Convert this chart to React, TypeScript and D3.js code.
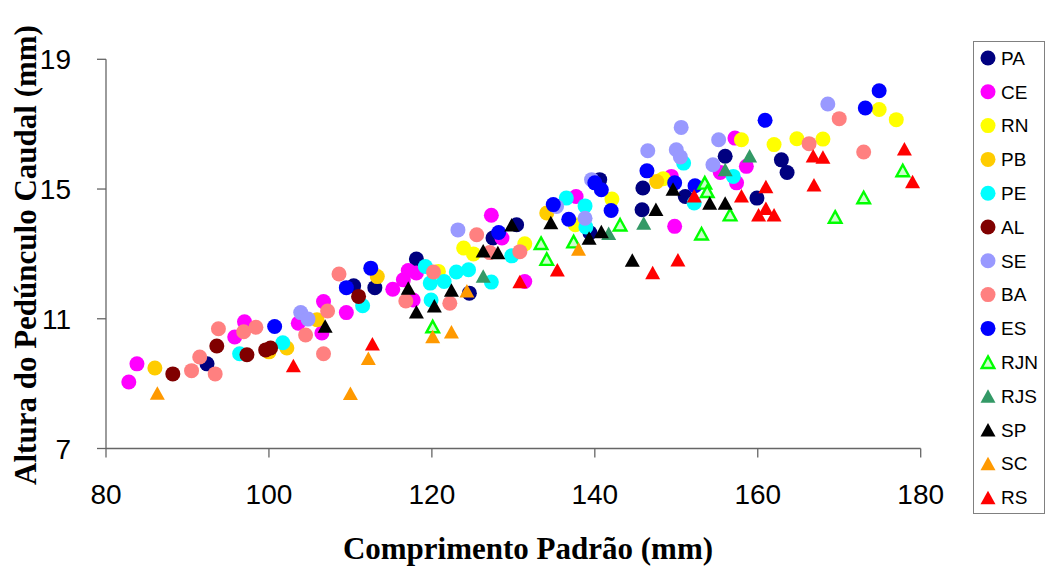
import React from "react";
import * as d3 from "d3";

type Pt = [number, number];

const PA: Pt[] = [[92.4,9.61],[110.4,12.02],[113.0,11.96],[118.1,12.84],[124.6,11.79],[127.5,13.49],[130.4,13.9],[139.4,13.65],[140.6,15.29],[145.9,15.03],[145.8,14.36],[151.1,14.77],[156.0,16.01],[159.9,14.72],[162.9,15.9],[163.6,15.51]];
const CE: Pt[] = [[82.8,9.05],[83.8,9.61],[95.8,10.44],[97.0,10.91],[103.6,10.86],[106.7,11.53],[106.5,10.56],[109.5,11.19],[115.2,11.91],[116.5,12.2],[117.1,12.49],[118.1,12.41],[117.7,11.58],[127.3,14.19],[128.6,13.49],[131.4,12.15],[137.7,14.77],[149.4,15.39],[149.8,13.85],[155.4,15.51],[157.2,16.57],[158.6,15.7],[157.4,15.19]];
const RN: Pt[] = [[120.8,12.46],[123.9,13.18],[125.1,13.0],[131.4,13.31],[137.6,13.9],[142.1,14.69],[148.4,15.32],[158.0,16.52],[162.0,16.37],[164.8,16.55],[168.0,16.54],[174.9,17.45],[177.0,17.14]];
const PB: Pt[] = [[86.0,9.48],[100.0,9.98],[102.2,10.1],[105.9,10.97],[113.3,12.3],[134.1,14.26],[147.6,15.23]];
const PE: Pt[] = [[96.4,9.92],[101.7,10.26],[111.5,11.4],[119.2,12.61],[119.8,12.1],[121.5,12.15],[119.9,11.58],[123.0,12.44],[124.5,12.51],[127.3,12.13],[129.8,12.94],[136.5,14.72],[138.8,14.48],[138.9,13.83],[150.9,15.8],[152.2,14.57],[157.0,15.39]];
const AL: Pt[] = [[88.2,9.3],[93.6,10.16],[97.3,9.89],[99.6,10.04],[100.2,10.1],[111.0,11.69]];
const SE: Pt[] = [[103.9,11.19],[104.8,10.99],[123.2,13.74],[135.3,14.46],[138.8,14.1],[139.6,15.29],[146.5,16.18],[150.0,16.21],[150.5,15.99],[150.6,16.9],[154.5,15.75],[155.2,16.52],[168.6,17.62]];
const BA: Pt[] = [[90.5,9.4],[91.5,9.82],[93.4,9.3],[93.8,10.69],[96.9,10.6],[98.4,10.74],[104.5,10.5],[106.7,9.92],[107.2,11.24],[108.6,12.38],[116.8,11.55],[120.2,12.44],[122.2,11.48],[125.5,13.59],[127.1,13.04],[130.8,13.07],[166.3,16.4],[170.0,17.17],[173.0,16.14]];
const ES: Pt[] = [[100.7,10.76],[109.5,11.96],[112.5,12.56],[128.2,13.66],[134.9,14.52],[136.8,14.07],[140.0,15.19],[140.8,14.98],[142.0,14.34],[146.4,15.56],[149.8,15.19],[152.3,15.1],[160.9,17.12],[173.2,17.5],[174.9,18.03]];
const RJN: Pt[] = [[120.1,10.76],[133.4,13.33],[134.1,12.84],[137.4,13.38],[143.1,13.9],[153.5,15.19],[153.8,14.93],[153.1,13.62],[156.6,14.21],[169.5,14.14],[173.0,14.74],[177.8,15.57]];
const RJS: Pt[] = [[126.3,12.32],[141.7,13.64],[146.0,13.95],[156.0,15.6],[159.0,16.03]];
const SP: Pt[] = [[106.9,10.78],[117.1,11.95],[118.1,11.22],[120.3,11.4],[122.4,11.89],[126.3,13.1],[128.1,13.04],[129.8,13.9],[134.6,13.97],[139.3,13.49],[140.8,13.69],[144.6,12.81],[147.5,14.38],[149.6,15.0],[154.1,14.57],[156.0,14.57]];
const SC: Pt[] = [[86.3,8.71],[110.0,8.7],[112.2,9.78],[120.1,10.45],[122.4,10.6],[124.3,11.86],[138.0,13.15]];
const RS: Pt[] = [[103.0,9.56],[112.7,10.23],[130.8,12.15],[135.4,12.51],[147.1,12.43],[150.2,12.82],[152.2,14.79],[158.0,14.79],[161.0,15.08],[160.1,14.21],[161.0,14.41],[162.0,14.21],[166.8,16.03],[168.0,15.99],[166.9,15.13],[178.0,16.24],[179.0,15.23]];

const X_TICKS = [80, 100, 120, 140, 160, 180];
const Y_TICKS = [7, 11, 15, 19];

type Series = { name: string; data: Pt[]; shape: "circle" | "tri"; fill: string; stroke?: string };
const SERIES: Series[] = [
  { name: "PA", data: PA, shape: "circle", fill: "#000080" },
  { name: "CE", data: CE, shape: "circle", fill: "#FF00FF" },
  { name: "RN", data: RN, shape: "circle", fill: "#FFFF00" },
  { name: "PB", data: PB, shape: "circle", fill: "#FFCC00" },
  { name: "PE", data: PE, shape: "circle", fill: "#00FFFF" },
  { name: "AL", data: AL, shape: "circle", fill: "#800000" },
  { name: "SE", data: SE, shape: "circle", fill: "#9999FF" },
  { name: "BA", data: BA, shape: "circle", fill: "#FF8080" },
  { name: "ES", data: ES, shape: "circle", fill: "#0000FF" },
  { name: "RJN", data: RJN, shape: "tri", fill: "#CCFFCC", stroke: "#00FF00" },
  { name: "RJS", data: RJS, shape: "tri", fill: "#339966" },
  { name: "SP", data: SP, shape: "tri", fill: "#000000" },
  { name: "SC", data: SC, shape: "tri", fill: "#FF9900" },
  { name: "RS", data: RS, shape: "tri", fill: "#FF0000" },
];

const x = d3.scaleLinear().domain([80, 180]).range([106, 920.7]);
const y = d3.scaleLinear().domain([7, 19]).range([448.5, 59.3]);

function Marker({ s, cx, cy }: { s: Series; cx: number; cy: number }) {
  if (s.shape === "circle") {
    return <circle cx={cx} cy={cy} r={7.5} fill={s.fill} />;
  }
  const w = s.stroke ? 6.3 : 7.5;
  const h = s.stroke ? 11.5 : 13.5;
  const pts = `${cx},${cy - h / 2} ${cx + w},${cy + h / 2} ${cx - w},${cy + h / 2}`;
  return s.stroke ? (
    <polygon points={pts} fill={s.fill} stroke={s.stroke} strokeWidth={2.4} strokeLinejoin="miter" />
  ) : (
    <polygon points={pts} fill={s.fill} />
  );
}

export default function App() {
  const axisColor = "#666";
  const sans = "Liberation Sans, Arial, sans-serif";
  const serif = "Liberation Serif, Times New Roman, serif";
  return (
    <svg width={1047} height={566} style={{ position: "absolute", left: 0, top: 0, background: "#fff" }}>
      <rect x={0} y={0} width={1047} height={566} fill="#fff" />
      {/* axes */}
      <line x1={x(80)} x2={x(80)} y1={y(19)} y2={y(7)} stroke={axisColor} strokeWidth={1.3} />
      <line x1={x(80)} x2={x(180)} y1={y(7)} y2={y(7)} stroke={axisColor} strokeWidth={1.3} />
      {Y_TICKS.map((t) => (
        <g key={"y" + t}>
          <line x1={x(80) - 9} x2={x(80)} y1={y(t)} y2={y(t)} stroke={axisColor} strokeWidth={1.3} />
          <text x={71} y={y(t)} dy="0.36em" textAnchor="end" fontFamily={sans} fontSize={28} fill="#000">
            {t}
          </text>
        </g>
      ))}
      {X_TICKS.map((t) => (
        <g key={"x" + t}>
          <line x1={x(t)} x2={x(t)} y1={y(7)} y2={y(7) + 9} stroke={axisColor} strokeWidth={1.3} />
          <text x={x(t)} y={504} textAnchor="middle" fontFamily={sans} fontSize={28} fill="#000">
            {t}
          </text>
        </g>
      ))}
      {/* points */}
      {SERIES.map((s) => (
        <g key={s.name}>
          {s.data.map((d, i) => (
            <Marker key={i} s={s} cx={x(d[0])} cy={y(d[1])} />
          ))}
        </g>
      ))}
      {/* titles */}
      <text x={528} y={559} textAnchor="middle" fontFamily={serif} fontWeight="bold" fontSize={31} fill="#000">
        Comprimento Padrão (mm)
      </text>
      <text
        transform="translate(36,255) rotate(-90)"
        textAnchor="middle"
        fontFamily={serif}
        fontWeight="bold"
        fontSize={31}
        fill="#000"
      >
        Altura do Pedúnculo Caudal (mm)
      </text>
      {/* legend */}
      <rect x={973.5} y={41.5} width={71} height={472} fill="#fff" stroke="#808080" strokeWidth={1} />
      {SERIES.map((s, i) => {
        const cy = 58 + i * 33.8;
        return (
          <g key={"lg" + s.name}>
            <Marker s={s} cx={988} cy={cy} />
            <text x={1001} y={cy} dy="0.36em" fontFamily={sans} fontSize={19} fill="#000">
              {s.name}
            </text>
          </g>
        );
      })}
    </svg>
  );
}
